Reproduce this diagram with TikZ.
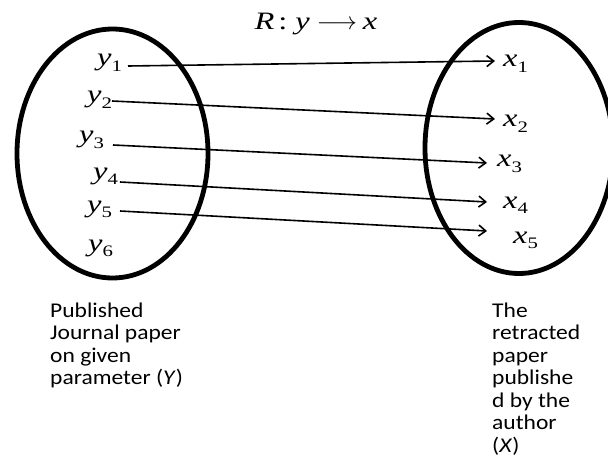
\documentclass[tikz,border=0pt]{standalone}
\usepackage{fontspec}
\setmainfont{Liberation Serif}
\newfontfamily\eqfont[FakeStretch=1.3]{Liberation Serif}
\newfontfamily\calib[FakeStretch=1.12]{Carlito}
\usetikzlibrary{arrows.meta}
\newcommand\mylab[2]{{\itshape #1}\raisebox{-5.5pt}{\fontsize{16}{16}\selectfont #2}}
\begin{document}
\begin{tikzpicture}[x=1pt,y=-1pt,
  setring/.style={line width=4.8pt},
  maparrow/.style={line width=1.6pt,-{Straight Barb[length=7pt,width=11pt,line width=1.6pt]}},
  elem/.style={anchor=base west,inner sep=0pt,font=\eqfont\fontsize{25}{28}\selectfont},
  caption/.style={anchor=north west,inner sep=0pt,align=left,font=\calib\fontsize{21}{22.5}\selectfont}]
\useasboundingbox (0,0) rectangle (608,476);
% sets
\draw[setring] (112.5,153.5) ellipse [x radius=95.5pt, y radius=124.5pt];
\draw[setring] (519,148) ellipse [x radius=94pt, y radius=125.5pt];
% title
\node[anchor=base,inner sep=0pt,font=\eqfont\fontsize{25}{28}\selectfont] (title) at (316,30)
  {\textit{R}\hspace{4pt}:\hspace{8pt}\textit{y}\hspace{7pt}{\fontsize{23}{26}\selectfont$\longrightarrow$}\hspace{6pt}\textit{x}};
% elements of Y
\node[elem] (y1) at (97,66) {\mylab{y}{1}};
\node[elem] (y2) at (87,103) {\mylab{y}{2}};
\node[elem] (y3) at (79,143) {\mylab{y}{3}};
\node[elem] (y4) at (93,179) {\mylab{y}{4}};
\node[elem] (y5) at (87,212) {\mylab{y}{5}};
\node[elem] (y6) at (88,251) {\mylab{y}{6}};
% elements of X
\node[elem] (x1) at (503,67) {\mylab{x}{1}};
\node[elem] (x2) at (503,127) {\mylab{x}{2}};
\node[elem] (x3) at (497,167) {\mylab{x}{3}};
\node[elem] (x4) at (503,208) {\mylab{x}{4}};
\node[elem] (x5) at (513,243) {\mylab{x}{5}};
% connector ends
\coordinate (s1) at (128,66);  \coordinate (e1) at (495,61);
\coordinate (s2) at (112,101); \coordinate (e2) at (495,119);
\coordinate (s3) at (113,145); \coordinate (e3) at (487,163);
\coordinate (s4) at (120,182); \coordinate (e4) at (487,202);
\coordinate (s5) at (120,211); \coordinate (e5) at (487,231);
\draw[maparrow] (s1) -- (e1);
\draw[maparrow] (s2) -- (e2);
\draw[maparrow] (s3) -- (e3);
\draw[maparrow] (s4) -- (e4);
\draw[maparrow] (s5) -- (e5);
% captions
\node[caption] (capY) at (50,302.5) {Published\\Journal paper\\on given\\parameter (\textit{Y})};
\node[caption] (capX) at (492,302.5) {The\\retracted\\paper\\publishe\\d by the\\author\\(\textit{X})};
\end{tikzpicture}
\end{document}
